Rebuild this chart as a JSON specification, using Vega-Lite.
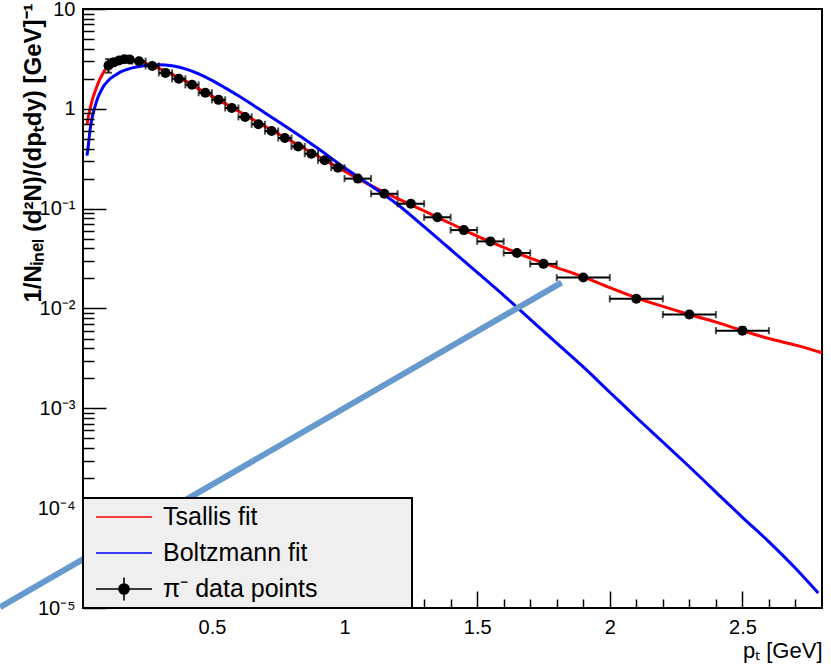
{
  "$schema": "https://vega.github.io/schema/vega-lite/v6.json",
  "width": 739,
  "height": 599,
  "autosize": {"type": "none"},
  "padding": {"left": 83, "top": 9, "right": 9, "bottom": 58},
  "background": "white",
  "config": {
    "view": {"stroke": "black", "strokeWidth": 2},
    "font": "Liberation Sans"
  },
  "datasets": {
    "curves": [
      {"series": "Tsallis fit", "pt": 0.029, "y": 0.69},
      {"series": "Tsallis fit", "pt": 0.035, "y": 0.85},
      {"series": "Tsallis fit", "pt": 0.04, "y": 0.98},
      {"series": "Tsallis fit", "pt": 0.05, "y": 1.26},
      {"series": "Tsallis fit", "pt": 0.06, "y": 1.51},
      {"series": "Tsallis fit", "pt": 0.07, "y": 1.78},
      {"series": "Tsallis fit", "pt": 0.08, "y": 2.04},
      {"series": "Tsallis fit", "pt": 0.09, "y": 2.29},
      {"series": "Tsallis fit", "pt": 0.1, "y": 2.51},
      {"series": "Tsallis fit", "pt": 0.12, "y": 2.82},
      {"series": "Tsallis fit", "pt": 0.14, "y": 3.02},
      {"series": "Tsallis fit", "pt": 0.16, "y": 3.13},
      {"series": "Tsallis fit", "pt": 0.18, "y": 3.14},
      {"series": "Tsallis fit", "pt": 0.2, "y": 3.09},
      {"series": "Tsallis fit", "pt": 0.225, "y": 2.99},
      {"series": "Tsallis fit", "pt": 0.25, "y": 2.85},
      {"series": "Tsallis fit", "pt": 0.3, "y": 2.54},
      {"series": "Tsallis fit", "pt": 0.35, "y": 2.21},
      {"series": "Tsallis fit", "pt": 0.4, "y": 1.905},
      {"series": "Tsallis fit", "pt": 0.45, "y": 1.585},
      {"series": "Tsallis fit", "pt": 0.5, "y": 1.34},
      {"series": "Tsallis fit", "pt": 0.55, "y": 1.127},
      {"series": "Tsallis fit", "pt": 0.6, "y": 0.946},
      {"series": "Tsallis fit", "pt": 0.65, "y": 0.794},
      {"series": "Tsallis fit", "pt": 0.7, "y": 0.668},
      {"series": "Tsallis fit", "pt": 0.75, "y": 0.562},
      {"series": "Tsallis fit", "pt": 0.8, "y": 0.473},
      {"series": "Tsallis fit", "pt": 0.85, "y": 0.398},
      {"series": "Tsallis fit", "pt": 0.9, "y": 0.335},
      {"series": "Tsallis fit", "pt": 0.95, "y": 0.282},
      {"series": "Tsallis fit", "pt": 1.0, "y": 0.237},
      {"series": "Tsallis fit", "pt": 1.1, "y": 0.17},
      {"series": "Tsallis fit", "pt": 1.2, "y": 0.126},
      {"series": "Tsallis fit", "pt": 1.3, "y": 0.095},
      {"series": "Tsallis fit", "pt": 1.4, "y": 0.071},
      {"series": "Tsallis fit", "pt": 1.5, "y": 0.053},
      {"series": "Tsallis fit", "pt": 1.6, "y": 0.041},
      {"series": "Tsallis fit", "pt": 1.7, "y": 0.032},
      {"series": "Tsallis fit", "pt": 1.8, "y": 0.0257},
      {"series": "Tsallis fit", "pt": 1.9, "y": 0.0207},
      {"series": "Tsallis fit", "pt": 2.0, "y": 0.0162},
      {"series": "Tsallis fit", "pt": 2.1, "y": 0.0128},
      {"series": "Tsallis fit", "pt": 2.2, "y": 0.0105},
      {"series": "Tsallis fit", "pt": 2.3, "y": 0.0087},
      {"series": "Tsallis fit", "pt": 2.4, "y": 0.0073},
      {"series": "Tsallis fit", "pt": 2.5, "y": 0.006},
      {"series": "Tsallis fit", "pt": 2.6, "y": 0.005},
      {"series": "Tsallis fit", "pt": 2.7, "y": 0.0043},
      {"series": "Tsallis fit", "pt": 2.8, "y": 0.0036},
      {"series": "Boltzmann fit", "pt": 0.029, "y": 0.34},
      {"series": "Boltzmann fit", "pt": 0.035, "y": 0.45},
      {"series": "Boltzmann fit", "pt": 0.04, "y": 0.6},
      {"series": "Boltzmann fit", "pt": 0.05, "y": 0.85},
      {"series": "Boltzmann fit", "pt": 0.06, "y": 1.07},
      {"series": "Boltzmann fit", "pt": 0.07, "y": 1.29},
      {"series": "Boltzmann fit", "pt": 0.08, "y": 1.48},
      {"series": "Boltzmann fit", "pt": 0.09, "y": 1.66},
      {"series": "Boltzmann fit", "pt": 0.1, "y": 1.8},
      {"series": "Boltzmann fit", "pt": 0.12, "y": 2.04},
      {"series": "Boltzmann fit", "pt": 0.14, "y": 2.21},
      {"series": "Boltzmann fit", "pt": 0.16, "y": 2.37},
      {"series": "Boltzmann fit", "pt": 0.18, "y": 2.48},
      {"series": "Boltzmann fit", "pt": 0.2, "y": 2.57},
      {"series": "Boltzmann fit", "pt": 0.25, "y": 2.72},
      {"series": "Boltzmann fit", "pt": 0.3, "y": 2.77},
      {"series": "Boltzmann fit", "pt": 0.35, "y": 2.7},
      {"series": "Boltzmann fit", "pt": 0.4, "y": 2.51},
      {"series": "Boltzmann fit", "pt": 0.45, "y": 2.24},
      {"series": "Boltzmann fit", "pt": 0.5, "y": 1.93},
      {"series": "Boltzmann fit", "pt": 0.55, "y": 1.62},
      {"series": "Boltzmann fit", "pt": 0.6, "y": 1.35},
      {"series": "Boltzmann fit", "pt": 0.7, "y": 0.91},
      {"series": "Boltzmann fit", "pt": 0.8, "y": 0.61},
      {"series": "Boltzmann fit", "pt": 0.9, "y": 0.4},
      {"series": "Boltzmann fit", "pt": 1.0, "y": 0.257},
      {"series": "Boltzmann fit", "pt": 1.1, "y": 0.17},
      {"series": "Boltzmann fit", "pt": 1.2, "y": 0.11},
      {"series": "Boltzmann fit", "pt": 1.3, "y": 0.066},
      {"series": "Boltzmann fit", "pt": 1.4, "y": 0.039},
      {"series": "Boltzmann fit", "pt": 1.5, "y": 0.023},
      {"series": "Boltzmann fit", "pt": 1.6, "y": 0.0135},
      {"series": "Boltzmann fit", "pt": 1.7, "y": 0.0078},
      {"series": "Boltzmann fit", "pt": 1.8, "y": 0.0045},
      {"series": "Boltzmann fit", "pt": 1.9, "y": 0.0026},
      {"series": "Boltzmann fit", "pt": 2.0, "y": 0.00145},
      {"series": "Boltzmann fit", "pt": 2.1, "y": 0.00081},
      {"series": "Boltzmann fit", "pt": 2.2, "y": 0.00046},
      {"series": "Boltzmann fit", "pt": 2.3, "y": 0.00026},
      {"series": "Boltzmann fit", "pt": 2.4, "y": 0.000145},
      {"series": "Boltzmann fit", "pt": 2.5, "y": 0.000081},
      {"series": "Boltzmann fit", "pt": 2.6, "y": 0.000046},
      {"series": "Boltzmann fit", "pt": 2.7, "y": 0.000025},
      {"series": "Boltzmann fit", "pt": 2.786, "y": 0.0000141}
    ],
    "points": [
      {"pt": 0.11, "y": 2.72, "xlo": 0.1, "xhi": 0.12},
      {"pt": 0.13, "y": 2.92, "xlo": 0.12, "xhi": 0.14},
      {"pt": 0.15, "y": 3.05, "xlo": 0.14, "xhi": 0.16},
      {"pt": 0.17, "y": 3.14, "xlo": 0.16, "xhi": 0.18},
      {"pt": 0.19, "y": 3.12, "xlo": 0.18, "xhi": 0.2},
      {"pt": 0.225, "y": 3.0, "xlo": 0.2, "xhi": 0.25},
      {"pt": 0.275, "y": 2.69, "xlo": 0.25, "xhi": 0.3},
      {"pt": 0.325, "y": 2.29, "xlo": 0.3, "xhi": 0.35},
      {"pt": 0.375, "y": 2.0, "xlo": 0.35, "xhi": 0.4},
      {"pt": 0.425, "y": 1.74, "xlo": 0.4, "xhi": 0.45},
      {"pt": 0.475, "y": 1.45, "xlo": 0.45, "xhi": 0.5},
      {"pt": 0.525, "y": 1.23, "xlo": 0.5, "xhi": 0.55},
      {"pt": 0.575, "y": 1.02, "xlo": 0.55, "xhi": 0.6},
      {"pt": 0.625, "y": 0.83, "xlo": 0.6, "xhi": 0.65},
      {"pt": 0.675, "y": 0.7, "xlo": 0.65, "xhi": 0.7},
      {"pt": 0.725, "y": 0.6, "xlo": 0.7, "xhi": 0.75},
      {"pt": 0.775, "y": 0.51, "xlo": 0.75, "xhi": 0.8},
      {"pt": 0.825, "y": 0.42, "xlo": 0.8, "xhi": 0.85},
      {"pt": 0.875, "y": 0.355, "xlo": 0.85, "xhi": 0.9},
      {"pt": 0.925, "y": 0.305, "xlo": 0.9, "xhi": 0.95},
      {"pt": 0.975, "y": 0.257, "xlo": 0.95, "xhi": 1.0},
      {"pt": 1.05, "y": 0.2, "xlo": 1.0, "xhi": 1.1},
      {"pt": 1.15, "y": 0.141, "xlo": 1.1, "xhi": 1.2},
      {"pt": 1.25, "y": 0.112, "xlo": 1.2, "xhi": 1.3},
      {"pt": 1.35, "y": 0.082, "xlo": 1.3, "xhi": 1.4},
      {"pt": 1.45, "y": 0.061, "xlo": 1.4, "xhi": 1.5},
      {"pt": 1.55, "y": 0.047, "xlo": 1.5, "xhi": 1.6},
      {"pt": 1.65, "y": 0.036, "xlo": 1.6, "xhi": 1.7},
      {"pt": 1.75, "y": 0.028, "xlo": 1.7, "xhi": 1.8},
      {"pt": 1.9, "y": 0.0204, "xlo": 1.8, "xhi": 2.0},
      {"pt": 2.1, "y": 0.0125, "xlo": 2.0, "xhi": 2.2},
      {"pt": 2.3, "y": 0.0087, "xlo": 2.2, "xhi": 2.4},
      {"pt": 2.5, "y": 0.006, "xlo": 2.4, "xhi": 2.6}
    ],
    "yerr": [
      {"pt": 0.11, "ylo": 2.3, "yhi": 3.15},
      {"pt": 2.1, "ylo": 0.0119, "yhi": 0.0131},
      {"pt": 2.3, "ylo": 0.0081, "yhi": 0.0093},
      {"pt": 2.5, "ylo": 0.0056, "yhi": 0.0065}
    ],
    "annot": [
      {"pt": -0.2985, "y": 0.0000102},
      {"pt": 1.818, "y": 0.0182}
    ]
  },
  "layer": [
    {
      "data": {"name": "curves"},
      "mark": {"type": "line", "strokeWidth": 3, "interpolate": "monotone"},
      "encoding": {
        "x": {
          "field": "pt", "type": "quantitative",
          "scale": {"domain": [0.014, 2.8], "nice": false, "zero": false},
          "axis": {
            "values": [0.5, 1, 1.5, 2, 2.5], "format": "~g",
            "tickSize": -17, "tickWidth": 1.5, "tickColor": "black",
            "labelPadding": 26, "labelFontSize": 20, "labelColor": "black", "labelFont": "Liberation Sans",
            "labelFlush": false, "labelOverlap": false, "labelBound": false,
            "domain": false, "grid": false, "zindex": -2,
            "title": "pₜ [GeV]", "titleX": 739, "titleY": 49, "titleAlign": "right", "titleBaseline": "alphabetic",
            "titleFontSize": 22, "titleFontWeight": "normal", "titleFont": "Liberation Sans", "titleColor": "black"
          }
        },
        "y": {
          "field": "y", "type": "quantitative",
          "scale": {"type": "log", "domain": [0.00001, 10], "nice": false},
          "axis": {
            "values": [0.00001, 0.0001, 0.001, 0.01, 0.1, 1, 10],
            "labelExpr": "datum.value >= 9 ? '10' : datum.value >= 0.9 ? '1' : datum.value >= 0.09 ? '10⁻¹' : datum.value >= 0.009 ? '10⁻²' : datum.value >= 0.0009 ? '10⁻³' : datum.value >= 0.00009 ? '10⁻⁴' : '10⁻⁵'",
            "tickSize": -23, "tickWidth": 1.5, "tickColor": "black",
            "labelPadding": 31, "labelFontSize": 20, "labelColor": "black", "labelFont": "Liberation Sans",
            "labelFlush": false, "labelOverlap": false, "labelBound": false,
            "domain": false, "grid": false, "zindex": -2,
            "title": "1/Nᵢₙₑₗ (d²N)/(dpₜdy) [GeV]⁻¹", "titleAngle": 270, "titleX": -50, "titleY": -6,
            "titleAlign": "right", "titleBaseline": "middle",
            "titleFontSize": 24, "titleFontWeight": "bold", "titleFont": "Liberation Sans", "titleColor": "black"
          }
        },
        "color": {
          "field": "series", "type": "nominal",
          "scale": {"domain": ["Tsallis fit", "Boltzmann fit", "π⁻ data points"], "range": ["#ff0000", "#0000ff", "#000000"]},
          "legend": {
            "title": null, "orient": "bottom-left", "offset": 0, "padding": 4, "zindex": -1,
            "fillColor": "#efefef", "strokeColor": "black",
            "symbolType": "M-2,0H2", "symbolSize": 784, "symbolStrokeWidth": 1.6, "symbolOffset": 22,
            "labelFont": "Liberation Sans", "labelFontSize": 25, "labelColor": "black", "labelOffset": 24, "labelLimit": 400,
            "rowPadding": 8,
            "labelExpr": "datum.label + '\u2800\u2800\u2800\u2800\u2800'",
            "encode": {
              "legend": {"update": {"strokeWidth": {"value": 2}}},
              "symbols": {"update": {
                "shape": {"signal": "datum.value === 'π⁻ data points' ? 'M-2,0H2M0,-0.82V0.82M0.36,0A0.36,0.36,0,1,1,-0.36,0A0.36,0.36,0,1,1,0.36,0Z' : 'M-2,0H2'"},
                "fill": {"signal": "datum.value === 'π⁻ data points' ? 'black' : 'transparent'"}
              }}
            }
          }
        }
      }
    },
    {
      "data": {"name": "points"},
      "mark": {"type": "errorbar", "ticks": {"size": 7, "thickness": 2}, "rule": {"strokeWidth": 2}, "color": "black"},
      "encoding": {
        "x": {"field": "xlo", "type": "quantitative", "axis": null},
        "x2": {"field": "xhi"},
        "y": {"field": "y", "type": "quantitative", "axis": null}
      }
    },
    {
      "data": {"name": "yerr"},
      "mark": {"type": "errorbar", "ticks": {"size": 7, "thickness": 2}, "rule": {"strokeWidth": 2}, "color": "black"},
      "encoding": {
        "x": {"field": "pt", "type": "quantitative", "axis": null},
        "y": {"field": "ylo", "type": "quantitative", "axis": null},
        "y2": {"field": "yhi"}
      }
    },
    {
      "data": {"name": "points"},
      "mark": {"type": "point", "filled": true, "size": 100, "color": "black", "opacity": 1},
      "encoding": {
        "x": {
          "field": "pt", "type": "quantitative",
          "axis": {
            "values": [0.1, 0.2, 0.3, 0.4, 0.6, 0.7, 0.8, 0.9, 1.1, 1.2, 1.3, 1.4, 1.6, 1.7, 1.8, 1.9, 2.1, 2.2, 2.3, 2.4, 2.6, 2.7],
            "orient": "bottom", "tickSize": -9, "tickWidth": 1.5, "tickColor": "black",
            "labels": false, "domain": false, "grid": false, "title": null, "zindex": -2
          }
        },
        "y": {
          "field": "y", "type": "quantitative",
          "axis": {
            "values": [0.00002, 0.00003, 0.00004, 0.00005, 0.00006, 0.00007, 0.00008, 0.00009,
                       0.0002, 0.0003, 0.0004, 0.0005, 0.0006, 0.0007, 0.0008, 0.0009,
                       0.002, 0.003, 0.004, 0.005, 0.006, 0.007, 0.008, 0.009,
                       0.02, 0.03, 0.04, 0.05, 0.06, 0.07, 0.08, 0.09,
                       0.2, 0.3, 0.4, 0.5, 0.6, 0.7, 0.8, 0.9,
                       2, 3, 4, 5, 6, 7, 8, 9],
            "orient": "left", "tickSize": -11, "tickWidth": 1.5, "tickColor": "black",
            "labels": false, "domain": false, "grid": false, "title": null, "zindex": -2
          }
        }
      }
    },
    {
      "data": {"name": "annot"},
      "mark": {"type": "line", "strokeWidth": 6, "color": "#6699cc", "clip": false},
      "encoding": {
        "x": {"field": "pt", "type": "quantitative", "axis": null},
        "y": {"field": "y", "type": "quantitative", "axis": null}
      }
    }
  ],
  "resolve": {"axis": {"x": "independent", "y": "independent"}}
}
